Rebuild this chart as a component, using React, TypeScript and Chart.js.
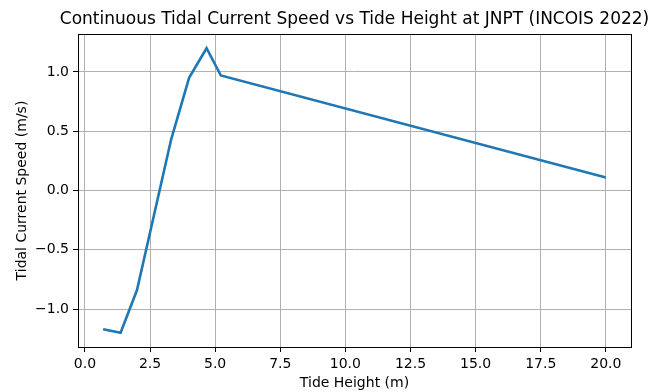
import React, { useEffect, useRef } from "react";
import { Chart, registerables } from "chart.js";

Chart.register(...registerables);

const tideHeight = [0.7, 1.37, 2.0, 3.31, 4.0, 4.67, 5.22, 20.0];
const currentSpeed = [-1.17, -1.2, -0.84, 0.43, 0.95, 1.2, 0.97, 0.11];
const xTicks = [0, 2.5, 5, 7.5, 10, 12.5, 15, 17.5, 20];
const yTicks = [-1.0, -0.5, 0.0, 0.5, 1.0];
const titleText = "Continuous Tidal Current Speed vs Tide Height at JNPT (INCOIS 2022)";
const xLabel = "Tide Height (m)";
const yLabel = "Tidal Current Speed (m/s)";

const FONT = "'DejaVu Sans', sans-serif";

const fmt = (v: number) => {
  const s = Math.abs(v).toFixed(1);
  return v < 0 ? "\u2212" + s : s;
};

const framePlugin = {
  id: "frame",
  afterDraw(chart: any) {
    const { ctx, chartArea } = chart;
    const { left, right, top, bottom } = chartArea;
    ctx.save();
    ctx.strokeStyle = "#000";
    ctx.lineWidth = 1;
    ctx.strokeRect(Math.round(left) + 0.5, Math.round(top) + 0.5, Math.round(right - left), Math.round(bottom - top));
    const cx = (left + right) / 2;
    ctx.fillStyle = "#000";
    ctx.textAlign = "center";
    ctx.textBaseline = "middle";
    ctx.font = `17px ${FONT}`;
    ctx.fillText(titleText, cx, 20);
    ctx.font = `14px ${FONT}`;
    ctx.fillText(xLabel, cx, 383);
    ctx.translate(22, (top + bottom) / 2);
    ctx.rotate(-Math.PI / 2);
    ctx.fillText(yLabel, 0, 0);
    ctx.restore();
  },
};

export default function App() {
  const ref = useRef<HTMLCanvasElement>(null);
  useEffect(() => {
    document.body.style.margin = "0";
    const chart = new Chart(ref.current!, {
      type: "line",
      data: {
        datasets: [
          {
            data: tideHeight.map((x, i) => ({ x, y: currentSpeed[i] })),
            borderColor: "#1f77b4",
            borderWidth: 2.6,
            pointRadius: 0,
            fill: false,
            tension: 0,
          },
        ],
      },
      options: {
        animation: false,
        responsive: false,
        events: [],
        layout: { padding: { left: 0, right: 32, top: 34, bottom: 0 } },
        plugins: { legend: { display: false }, title: { display: false }, tooltip: { enabled: false } },
        scales: {
          x: {
            type: "linear",
            min: -0.265,
            max: 20.965,
            afterBuildTicks: (s: any) => {
              s.ticks = xTicks.map((v) => ({ value: v }));
            },
            afterFit: (s: any) => {
              s.height = 45;
            },
            border: { display: false },
            grid: { color: "#b0b0b0", lineWidth: 1, tickLength: 5, tickColor: "#000", drawOnChartArea: true },
            ticks: {
              color: "#000",
              font: { family: FONT, size: 14 },
              padding: 4,
              maxRotation: 0,
              autoSkip: false,
              callback: (v: any) => fmt(Number(v)),
            },
          },
          y: {
            type: "linear",
            min: -1.32,
            max: 1.32,
            afterBuildTicks: (s: any) => {
              s.ticks = yTicks.map((v) => ({ value: v }));
            },
            afterFit: (s: any) => {
              s.width = 78;
            },
            border: { display: false },
            grid: { color: "#b0b0b0", lineWidth: 1, tickLength: 5, tickColor: "#000" },
            ticks: {
              color: "#000",
              font: { family: FONT, size: 14 },
              padding: 4,
              autoSkip: false,
              callback: (v: any) => fmt(Number(v)),
            },
          },
        },
      },
      plugins: [framePlugin],
    } as any);
    return () => chart.destroy();
  }, []);
  return (
    <div style={{ position: "absolute", left: 0, top: 0, width: 663, height: 392, background: "#fff" }}>
      <canvas ref={ref} width={663} height={392} style={{ width: 663, height: 392 }} />
    </div>
  );
}
